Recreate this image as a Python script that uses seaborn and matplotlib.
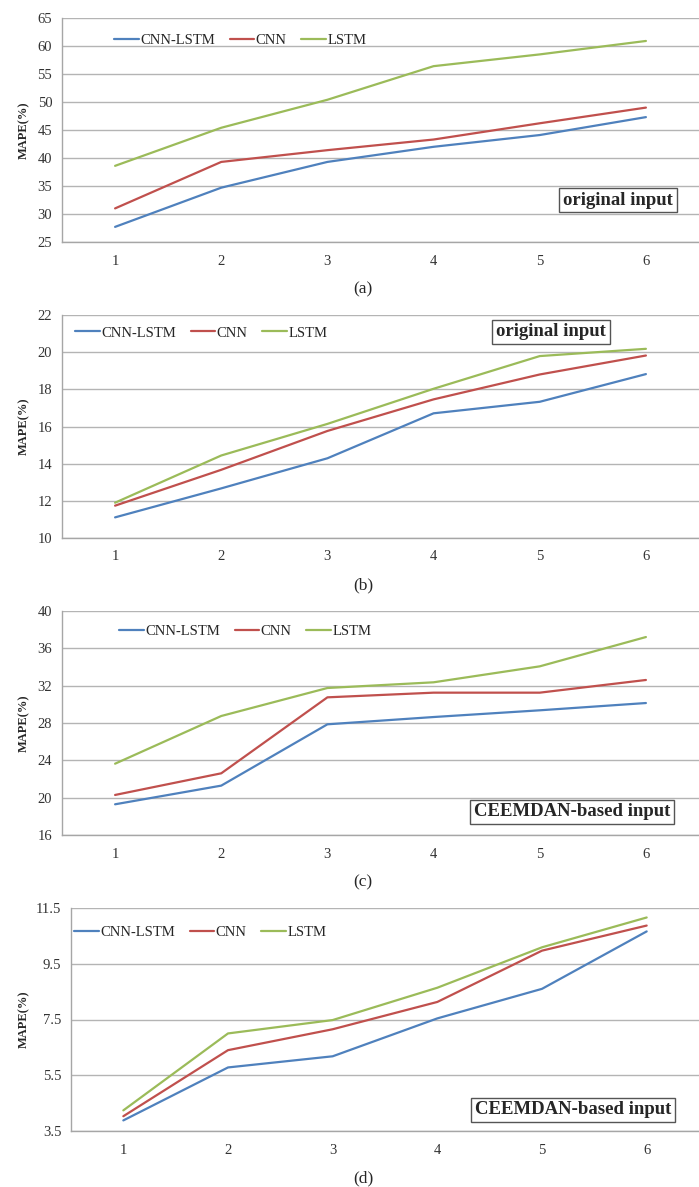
import matplotlib
matplotlib.use("Agg")
import matplotlib.pyplot as plt
import numpy as np
import pandas as pd
import seaborn as sns

# horizon steps shared by every panel
steps = [1, 2, 3, 4, 5, 6]
models = ["CNN-LSTM", "CNN", "LSTM"]

# (a) original input
a_cnn_lstm = [27.7, 34.7, 39.3, 42.0, 44.1, 47.3]
a_cnn = [31.0, 39.3, 41.4, 43.3, 46.2, 49.0]
a_lstm = [38.6, 45.4, 50.4, 56.4, 58.5, 60.9]

# (b) original input
b_cnn_lstm = [11.11, 12.67, 14.29, 16.71, 17.33, 18.82]
b_cnn = [11.74, 13.67, 15.76, 17.46, 18.80, 19.82]
b_lstm = [11.90, 14.44, 16.14, 18.03, 19.79, 20.18]

# (c) CEEMDAN-based input
c_cnn_lstm = [19.29, 21.29, 27.86, 28.64, 29.36, 30.14]
c_cnn = [20.29, 22.61, 30.75, 31.25, 31.25, 32.61]
c_lstm = [23.64, 28.75, 31.75, 32.36, 34.07, 37.21]

# (d) CEEMDAN-based input
d_cnn_lstm = [3.88, 5.78, 6.18, 7.54, 8.60, 10.66]
d_cnn = [4.03, 6.40, 7.15, 8.13, 9.97, 10.87]
d_lstm = [4.24, 7.00, 7.48, 8.64, 10.09, 11.16]

colors = {"CNN-LSTM": "#4F81BD", "CNN": "#C0504D", "LSTM": "#9BBB59"}

sns.set_style("white")
plt.rcParams["font.family"] = ["Liberation Serif", "DejaVu Serif"]

W, H = 699, 1187
fig = plt.figure(figsize=(W / 100, H / 100), dpi=100)


def make_panel(rect, series, yticks, ytick_fmt, xmax, caption, cap_y,
               box_text, box_xy, legend_xy):
    """Draws one MAPE panel in pixel-based figure layout."""
    left, top, right, bottom = rect
    ax = fig.add_axes([left / W, 1 - bottom / H, (right - left) / W, (bottom - top) / H])
    df = pd.DataFrame({
        "step": steps * 3,
        "MAPE": series[0] + series[1] + series[2],
        "model": sum([[m] * len(steps) for m in models], []),
    })
    sns.lineplot(data=df, x="step", y="MAPE", hue="model", hue_order=models,
                 palette=colors, linewidth=1.6, ax=ax, legend=True)
    ax.set_xlim(0.5, xmax)
    ax.set_ylim(yticks[0], yticks[-1])
    ax.set_yticks(yticks)
    ax.set_yticklabels([ytick_fmt.format(t) for t in yticks])
    ax.set_xticks(steps)
    ax.set_xticks(np.arange(0.5, 7, 1.0), minor=True)
    ax.tick_params(axis="x", which="major", length=0, pad=9, labelsize=10.5, colors="#333333")
    ax.tick_params(axis="x", which="minor", length=4, color="#999999", direction="out")
    ax.tick_params(axis="y", length=4, color="#999999", direction="out", pad=3,
                   labelsize=10.5, colors="#333333")
    ax.tick_params(axis="y", color="#999999")
    ax.grid(axis="y", color="#b4b4b4", linewidth=1.0)
    ax.set_axisbelow(True)
    for s in ["top", "right"]:
        ax.spines[s].set_visible(False)
    for s in ["left", "bottom"]:
        ax.spines[s].set_color("#a6a6a6")
        ax.spines[s].set_linewidth(1.0)
    ax.set_xlabel("")
    ax.set_ylabel("")

    handles, labels = ax.get_legend_handles_labels()
    ax.legend(handles, labels, loc="center left", ncol=3, frameon=False,
              bbox_to_anchor=(legend_xy[0] / W, 1 - legend_xy[1] / H),
              bbox_transform=fig.transFigure, borderpad=0, borderaxespad=0,
              handlelength=1.7, handletextpad=0.1, columnspacing=1.0,
              fontsize=10.5)

    fig.text(24 / W, 1 - ((top + bottom) / 2) / H, "MAPE(%)", rotation=90,
             ha="center", va="center", fontsize=9, fontweight="bold")
    fig.text(363 / W, 1 - cap_y / H, caption, ha="center", va="center", fontsize=12.5)
    fig.text(box_xy[0] / W, 1 - box_xy[1] / H, box_text, ha="center", va="center",
             fontsize=13.5, fontweight="bold",
             bbox=dict(boxstyle="square,pad=0.2", facecolor="white",
                       edgecolor="#555555", linewidth=1.0))
    return ax


make_panel((62, 18, 699, 242), [a_cnn_lstm, a_cnn, a_lstm],
           [25, 30, 35, 40, 45, 50, 55, 60, 65], "{:d}", 6.398,
           "(a)", 289, "original input", (618, 200), (114, 40))
make_panel((62, 315, 699, 538), [b_cnn_lstm, b_cnn, b_lstm],
           [10, 12, 14, 16, 18, 20, 22], "{:d}", 6.398,
           "(b)", 585, "original input", (551, 332), (75, 333))
make_panel((62, 611, 699, 835), [c_cnn_lstm, c_cnn, c_lstm],
           [16, 20, 24, 28, 32, 36, 40], "{:d}", 6.398,
           "(c)", 882, "CEEMDAN-based input", (572, 812), (119, 631))
make_panel((71, 908, 699, 1131), [d_cnn_lstm, d_cnn, d_lstm],
           [3.5, 5.5, 7.5, 9.5, 11.5], "{:.1f}", 6.38,
           "(d)", 1178, "CEEMDAN-based input", (573, 1110), (74, 932))

fig.savefig("out.png", dpi=100)
